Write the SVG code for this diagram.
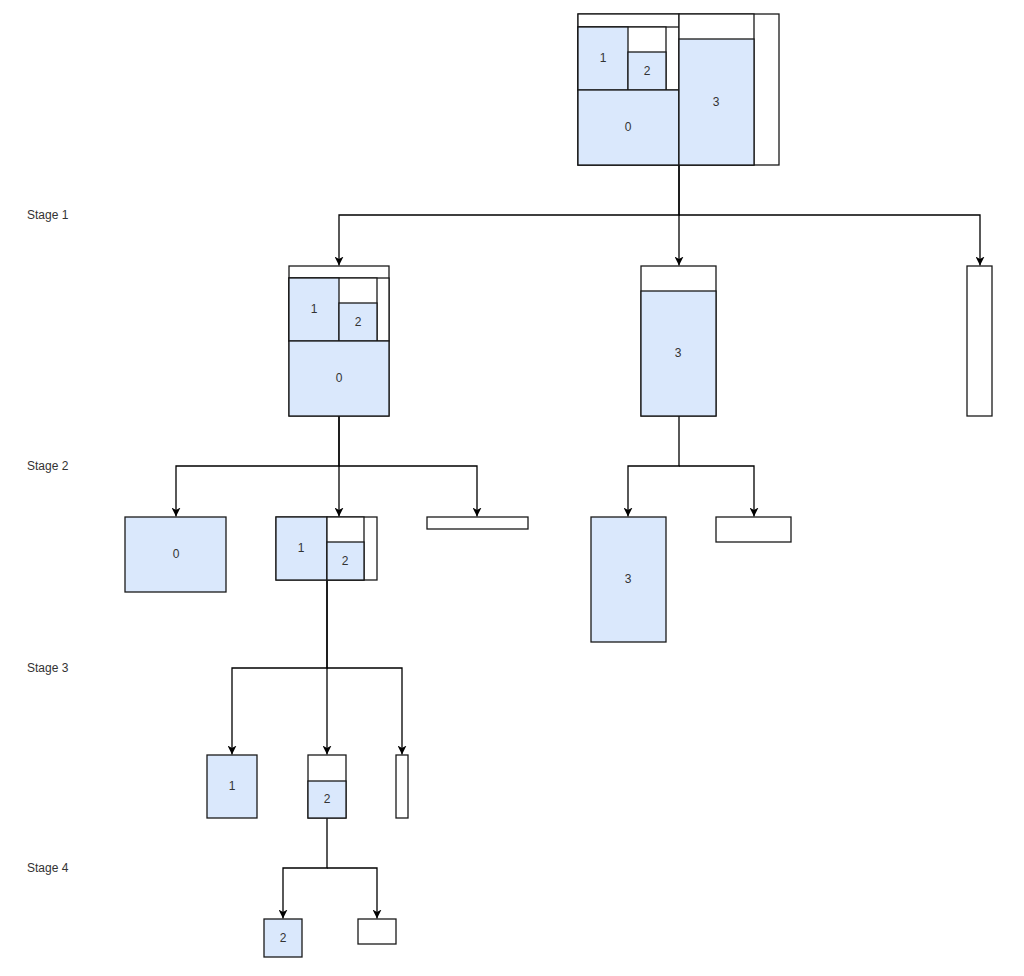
<svg xmlns="http://www.w3.org/2000/svg" width="1024" height="976" viewBox="0 0 1024 976">
<style>
.w{fill:#ffffff;stroke:#1a1a1a;stroke-width:1.3}
.b{fill:#dae8fc;stroke:#1a1a1a;stroke-width:1.3}
.t{font-family:"Liberation Sans",Arial,sans-serif;font-size:12px;fill:#333333;text-anchor:middle;dominant-baseline:central}
.s{font-family:"Liberation Sans",Arial,sans-serif;font-size:12px;fill:#333333;dominant-baseline:central}
.c{fill:none;stroke:#000000;stroke-width:1.3;marker-end:url(#a)}
</style>
<defs>
<marker id="a" markerUnits="userSpaceOnUse" markerWidth="10" markerHeight="9" refX="9" refY="4.5" orient="auto">
<path d="M0,0 L9,4.5 L0,9 L2.5,4.5 z" fill="#000000"/>
</marker>
</defs>
<rect x="0" y="0" width="1024" height="976" fill="#ffffff"/>
<g id="labels">
<text class="s" x="27" y="215">Stage 1</text>
<text class="s" x="27" y="466">Stage 2</text>
<text class="s" x="27" y="668">Stage 3</text>
<text class="s" x="27" y="868">Stage 4</text>
</g>
<g id="connectors">
<path class="c" d="M679,165 V215 H339 V265.5"/>
<path class="c" d="M679,165 V265.5"/>
<path class="c" d="M679,215 H980 V265.5"/>
<path class="c" d="M339,416 V466 H176 V516.5"/>
<path class="c" d="M339,416 V516.5"/>
<path class="c" d="M339,466 H477 V516.5"/>
<path class="c" d="M679,416 V466 H628 V516.5"/>
<path class="c" d="M679,466 H754 V516.5"/>
<path class="c" d="M327,579 V668 H232 V754.5"/>
<path class="c" d="M327,579 V754.5"/>
<path class="c" d="M327,668 H402 V754.5"/>
<path class="c" d="M327,818 V868 H283 V918.5"/>
<path class="c" d="M327,868 H377 V918.5"/>
</g>
<g id="root">
<rect class="w" x="578" y="14" width="201" height="151"/>
<rect class="w" x="578" y="14" width="101" height="151"/>
<rect class="w" x="578" y="27" width="101" height="63"/>
<rect class="w" x="578" y="27" width="88" height="63"/>
<rect class="b" x="578" y="27" width="50" height="63"/>
<rect class="b" x="628" y="52" width="38" height="38"/>
<rect class="b" x="578" y="90" width="101" height="75"/>
<rect class="w" x="679" y="14" width="75" height="151"/>
<rect class="b" x="679" y="39" width="75" height="126"/>
<text class="t" x="603" y="58">1</text>
<text class="t" x="647" y="71">2</text>
<text class="t" x="628" y="127">0</text>
<text class="t" x="716" y="102">3</text>
</g>
<g id="s1-left">
<rect class="w" x="289" y="266" width="100" height="150"/>
<rect class="w" x="289" y="278" width="100" height="63"/>
<rect class="w" x="289" y="278" width="88" height="63"/>
<rect class="b" x="289" y="278" width="50" height="63"/>
<rect class="b" x="339" y="303" width="38" height="38"/>
<rect class="b" x="289" y="341" width="100" height="75"/>
<text class="t" x="314" y="309">1</text>
<text class="t" x="358" y="322">2</text>
<text class="t" x="339" y="378">0</text>
</g>
<g id="s1-mid">
<rect class="w" x="641" y="266" width="75" height="150"/>
<rect class="b" x="641" y="291" width="75" height="125"/>
<text class="t" x="678" y="353">3</text>
</g>
<g id="s1-right">
<rect class="w" x="967" y="266" width="25" height="150"/>
</g>
<g id="s2-0">
<rect class="b" x="125" y="517" width="101" height="75"/>
<text class="t" x="176" y="554">0</text>
</g>
<g id="s2-12">
<rect class="w" x="276" y="517" width="101" height="63"/>
<rect class="b" x="276" y="517" width="51" height="63"/>
<rect class="w" x="327" y="517" width="37" height="63"/>
<rect class="b" x="327" y="542" width="37" height="38"/>
<text class="t" x="301" y="548">1</text>
<text class="t" x="345" y="561">2</text>
</g>
<g id="s2-strip">
<rect class="w" x="427" y="517" width="101" height="12"/>
</g>
<g id="s2-3">
<rect class="b" x="591" y="517" width="75" height="125"/>
<text class="t" x="628" y="579">3</text>
</g>
<g id="s2-empty">
<rect class="w" x="716" y="517" width="75" height="25"/>
</g>
<g id="s3-1">
<rect class="b" x="207" y="755" width="50" height="63"/>
<text class="t" x="232" y="786">1</text>
</g>
<g id="s3-2">
<rect class="w" x="308" y="755" width="38" height="63"/>
<rect class="b" x="308" y="781" width="38" height="37"/>
<text class="t" x="327" y="799">2</text>
</g>
<g id="s3-strip">
<rect class="w" x="396" y="755" width="12" height="63"/>
</g>
<g id="s4-2">
<rect class="b" x="264" y="919" width="38" height="38"/>
<text class="t" x="283" y="938">2</text>
</g>
<g id="s4-empty">
<rect class="w" x="358" y="919" width="38" height="25"/>
</g>
</svg>
